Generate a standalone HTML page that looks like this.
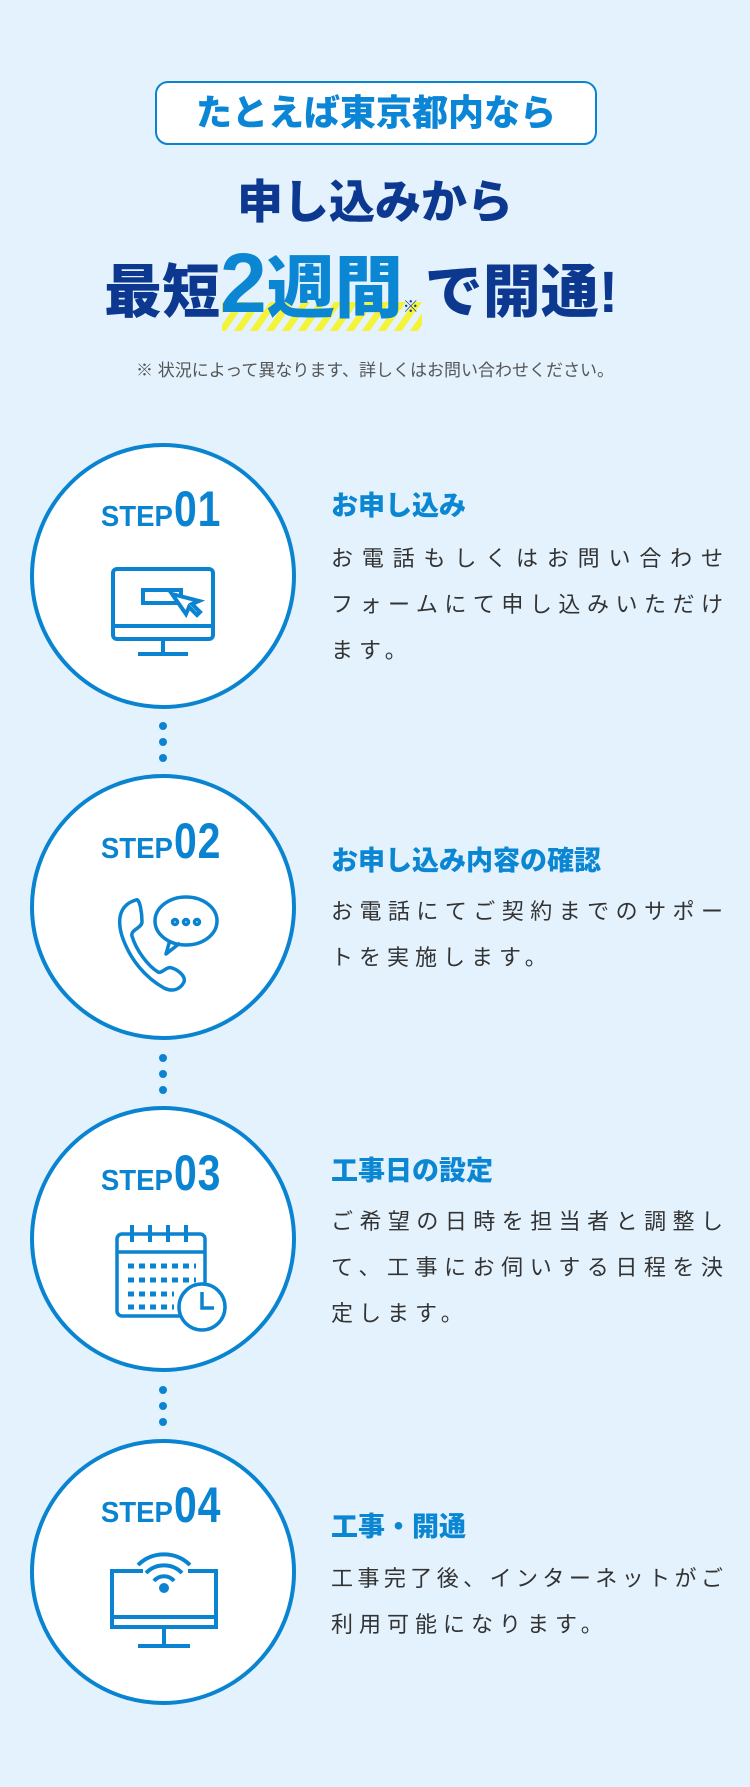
<!DOCTYPE html><html><head><meta charset="utf-8"><style>
body{margin:0;width:750px;height:1787px;background:#e3f2fd;position:relative;overflow:hidden;font-family:"Liberation Sans","Noto Sans CJK JP",sans-serif}
.a{position:absolute}
.tag{left:155px;top:81px;width:438px;height:60px;border:2px solid #0a84d0;border-radius:13px;background:#fff;text-align:center;line-height:60px;font-size:36px;font-weight:900;color:#0b86d6}
.navy{color:#0c3890;font-weight:900}
.circ{left:30px;width:258px;height:258px;border:4px solid #0a84d0;border-radius:50%;background:#fff}
.step{left:0;width:330px;text-align:center;color:#0a84d0;font-weight:700}
.step span.s{font-size:29px;display:inline-block;transform:scaleX(.95)}
.step span.n{font-size:50px;display:inline-block;transform:scaleX(.82);transform-origin:left;margin-left:-1px;letter-spacing:1px}
.dot{left:159px;width:8px;height:8px;border-radius:50%;background:#0a84d0}
.tt{left:331px;font-size:27px;font-weight:900;color:#0a86d3;white-space:nowrap}
.bd{left:331px;width:392px;font-size:22px;color:#333;line-height:46px}
.bd div{text-align:justify;text-align-last:justify;white-space:nowrap}
.bd div.l{text-align-last:left;letter-spacing:6px}
</style></head><body>
<div class="a tag">たとえば東京都内なら</div>
<div class="a navy" style="left:0;width:750px;top:172px;text-align:center;font-size:46px;line-height:60px">申し込みから</div>
<svg class="a" style="left:222px;top:302px" width="200" height="29"><defs><pattern id="p" width="16" height="29" patternUnits="userSpaceOnUse" patternTransform="skewX(-35)"><rect width="8" height="29" fill="#f5f23a"/></pattern></defs><rect width="200" height="29" fill="url(#p)"/></svg>
<div class="a" style="left:104px;top:238px;white-space:nowrap;line-height:90px">
<span class="navy" style="font-size:58px">最短</span><span style="font-size:84px;font-weight:900;color:#0a86d3">2</span><span style="font-size:68px;font-weight:900;color:#0a86d3">週間</span><span style="font-size:16px;color:#0c3890">※</span><span class="navy" style="font-size:58px;margin-left:6px">で開通!</span>
</div>
<div class="a" style="left:0;width:750px;top:356px;text-align:center;font-size:17px;color:#555">※ 状況によって異なります、詳しくはお問い合わせください。</div>

<div class="a circ" style="top:443px"></div>
<div class="a circ" style="top:774px"></div>
<div class="a circ" style="top:1106px"></div>
<div class="a circ" style="top:1439px"></div>
<div class="a dot" style="top:722px"></div><div class="a dot" style="top:738px"></div><div class="a dot" style="top:754px"></div>
<div class="a dot" style="top:1054px"></div><div class="a dot" style="top:1070px"></div><div class="a dot" style="top:1086px"></div>
<div class="a dot" style="top:1386px"></div><div class="a dot" style="top:1402px"></div><div class="a dot" style="top:1418px"></div>

<div class="a step" style="top:480px"><span class="s">STEP</span><span class="n">01</span></div>
<div class="a step" style="top:812px"><span class="s">STEP</span><span class="n">02</span></div>
<div class="a step" style="top:1144px"><span class="s">STEP</span><span class="n">03</span></div>
<div class="a step" style="top:1476px"><span class="s">STEP</span><span class="n">04</span></div>

<svg class="a" style="left:110px;top:566px" width="106" height="92" fill="none" stroke="#0a84d0" stroke-width="4">
<rect x="3" y="3" width="100" height="70" rx="4"/><line x1="3" y1="60" x2="103" y2="60"/><line x1="53" y1="73" x2="53" y2="87"/><line x1="28" y1="88" x2="78" y2="88"/>
<path d="M72 37H33V24H71V32"/><path d="M62 28l14 20 3-7 8 8 3-3-8-8 7-3z" fill="#fff"/></svg>
<svg class="a" style="left:108px;top:893px" width="112" height="102" fill="none" stroke="#0a84d0" stroke-width="3.5" stroke-linejoin="round">
<path d="M28 7c-14 4-20 16-14 36 8 24 24 42 42 52 8 4 16 2 20-6 2-6-6-12-12-14-6-2-10 6-14 4-10-6-22-22-26-36-2-6 10-8 10-14 0-8-2-24-6-22z"/>
<ellipse cx="78" cy="28" rx="31" ry="24" fill="#fff"/><path d="M62 47l-4 14 14-11"/>
<circle cx="67" cy="29" r="2.5"/><circle cx="78" cy="29" r="2.5"/><circle cx="89" cy="29" r="2.5"/></svg>
<svg class="a" style="left:114px;top:1222px" width="116" height="112" fill="none" stroke="#0a84d0" stroke-width="3.5">
<rect x="3" y="12" width="88" height="82" rx="5"/><line x1="3" y1="30" x2="91" y2="30"/>
<g stroke-width="4"><line x1="18" y1="3" x2="18" y2="20"/><line x1="36" y1="3" x2="36" y2="20"/><line x1="54" y1="3" x2="54" y2="20"/><line x1="72" y1="3" x2="72" y2="20"/></g>
<g stroke-width="5" stroke-dasharray="6 5"><line x1="14" y1="44" x2="82" y2="44"/><line x1="14" y1="58" x2="82" y2="58"/><line x1="14" y1="72" x2="60" y2="72"/><line x1="14" y1="85" x2="60" y2="85"/></g>
<circle cx="88" cy="85" r="23" fill="#fff"/><path d="M88 70v16h12"/></svg>
<svg class="a" style="left:108px;top:1551px" width="114" height="104" fill="none" stroke="#0a84d0" stroke-width="4">
<path d="M35 20H4v56h104V20H80"/><line x1="4" y1="66" x2="108" y2="66"/><line x1="56" y1="76" x2="56" y2="94"/><line x1="30" y1="95" x2="82" y2="95"/>
<path d="M30 14a37 37 0 0 1 52 0"/><path d="M38 22a25 25 0 0 1 36 0"/><path d="M46 30a13 13 0 0 1 20 0"/><circle cx="56" cy="37" r="3" fill="#0a84d0"/></svg>

<div class="a tt" style="top:484px">お申し込み</div>
<div class="a bd" style="top:536px"><div>お電話もしくはお問い合わせ</div><div>フォームにて申し込みいただけ</div><div class="l">ます。</div></div>
<div class="a tt" style="top:839px">お申し込み内容の確認</div>
<div class="a bd" style="top:889px"><div>お電話にてご契約までのサポー</div><div class="l">トを実施します。</div></div>
<div class="a tt" style="top:1149px">工事日の設定</div>
<div class="a bd" style="top:1199px"><div>ご希望の日時を担当者と調整し</div><div>て、工事にお伺いする日程を決</div><div class="l">定します。</div></div>
<div class="a tt" style="top:1505px">工事・開通</div>
<div class="a bd" style="top:1556px"><div>工事完了後、インターネットがご</div><div class="l">利用可能になります。</div></div>
</body></html>
